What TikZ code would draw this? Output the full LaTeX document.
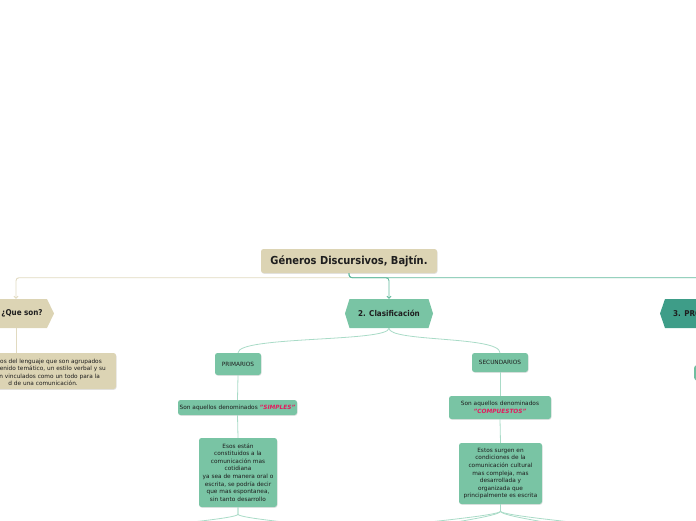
\documentclass[tikz,border=0pt]{standalone}
\usepackage{fontspec}
\setmainfont{DejaVu Sans}
\newfontfamily\headfont{DejaVu Sans Condensed}
\usetikzlibrary{arrows.meta,shadows,calc}
\definecolor{beige}{HTML}{DCD4B4}
\definecolor{mint}{HTML}{79C4A4}
\definecolor{deepteal}{HTML}{3E9D88}
\definecolor{linkteal}{HTML}{5FB89B}
\definecolor{linkbeige}{HTML}{E1DAC0}
\definecolor{linklight}{HTML}{A9DBC7}
\definecolor{hot}{HTML}{E5195E}
\definecolor{ink}{HTML}{1E1E1E}
\begin{document}
\begin{tikzpicture}[x=1pt,y=-1pt,
  box/.style={rounded corners=2.5pt, inner sep=0pt, align=center,
    font=\fontsize{5.8}{7.6}\selectfont, text=ink,
    drop shadow={shadow xshift=0.5pt,shadow yshift=-0.8pt,opacity=0.22}},
  mintbox/.style={box, fill=mint},
  beigebox/.style={box, fill=beige},
  hexlabel/.style={inner sep=0pt, minimum height=29pt, text=ink,
    font=\headfont\bfseries\fontsize{8}{9}\selectfont},
  smalltext/.style={inner sep=0pt, text=ink, font=\fontsize{5.8}{7.6}\selectfont},
  tiparrow/.style={-{Straight Barb[length=2pt,width=4pt]}},
  mainlink/.style={line width=0.9pt, rounded corners=3pt},
  sublink/.style={linklight, line width=0.8pt}]
\useasboundingbox (0,0) rectangle (696,520);
\clip (0,0) rectangle (696,520);

% hexagon shapes
\fill[beige] (-40,299) -- (47,299) -- (54,313.5) -- (47,328) -- (-40,328) -- cycle;
\fill[mint] (345,313.5) -- (349.5,299) -- (428.5,299) -- (433,313.5) -- (428.5,328) -- (349.5,328) -- cycle;
\fill[deepteal] (660,313.5) -- (665,299) -- (760,299) -- (760,328) -- (665,328) -- cycle;

% nodes
\node[beigebox, minimum width=176pt, minimum height=24pt,
  font=\headfont\bfseries\fontsize{11}{13}\selectfont] (root) at (349,261) {Géneros Discursivos, Bajtín.};
\node[hexlabel] (que) at (22,313.5) {¿Que son?};
\node[hexlabel, minimum width=88pt] (clas) at (389,313.5) {2. Clasificación};
\node[hexlabel, anchor=west] (pro) at (673,313.5) {3. PRO};

\node[beigebox, minimum width=200pt, minimum height=36pt] (def) at (16,371) {};
\node[smalltext, anchor=base east] (d1) at (102,363) {tos del lenguaje que son agrupados};
\node[smalltext, anchor=base east] (d2) at (106,370.5) {ntenido temático, un estilo verbal y su};
\node[smalltext, anchor=base east] (d3) at (100,378) {on vinculados como un todo para la};
\node[smalltext, anchor=base east] (d4) at (78,385.5) {d de una comunicación.};

\node[box, fill=mint!85!deepteal, minimum width=30pt, minimum height=15pt, anchor=north west] (edge) at (694,365) {};

\node[mintbox, minimum width=46pt, minimum height=22pt] (prim) at (238,364) {PRIMARIOS};
\node[mintbox, minimum width=119pt, minimum height=15pt] (simp) at (237.5,407.5)
  {Son aquellos denominados \textcolor{hot}{\bfseries\itshape "SIMPLES"}};
\node[mintbox, minimum width=78pt, minimum height=69pt] (esos) at (238,472.5)
  {Esos están\\constituidos a la\\comunicación mas\\cotidiana\\ya sea de manera oral o\\escrita, se podría decir\\que mas espontanea,\\sin tanto desarrollo};

\node[mintbox, minimum width=56pt, minimum height=19pt] (secu) at (500,362.5) {SECUNDARIOS};
\node[mintbox, minimum width=102pt, minimum height=23pt] (comp) at (500,407.5)
  {Son aquellos denominados\\\textcolor{hot}{\bfseries\itshape "COMPUESTOS"}};
\node[mintbox, minimum width=83pt, minimum height=61pt] (estos) at (500.5,473.5)
  {Estos surgen en\\condiciones de la\\comunicación cultural\\mas compleja, mas\\desarrollada y\\organizada que\\principalmente es escrita};

% connectors from root
\draw[linkteal, mainlink] (root.south) -- ++(0,4.5) -| ($(pro.north)+(40,0)$);
\draw[linkbeige, mainlink, tiparrow] (root.south) ++(0,4.5) -| ($(que.north)+(-6,0)$);
\draw[linkteal, mainlink, tiparrow] (root.south) -- ++(0,4.5) -| (clas.north);
\draw[linkbeige, line width=0.9pt] ($(que.south)+(-6,0)$) -- (def.north);

% clasificacion branches
\draw[sublink] (clas.south) .. controls +(0,14) and +(0,-17) .. (prim.north);
\draw[sublink] (clas.south) .. controls +(0,14) and +(0,-17) .. (secu.north);
\draw[sublink] (prim.south) -- (simp.north);
\draw[sublink] (simp.south) -- (esos.north);
\draw[sublink] (secu.south) -- (comp.north);
\draw[sublink] (comp.south) -- (estos.north);

% continuing branches below
\coordinate (pl) at (140,528);
\coordinate (pr) at (336,528);
\coordinate (sl1) at (380,527);
\coordinate (sl2) at (410,530);
\coordinate (sr1) at (620,527);
\coordinate (sr2) at (590,530);
\draw[sublink] (esos.south) -- ++(0,7) .. controls +(0,4) and +(30,-4) .. (pl);
\draw[sublink] (esos.south) -- ++(0,7) .. controls +(0,4) and +(-30,-4) .. (pr);
\draw[sublink] (estos.south) -- ++(0,7) .. controls +(0,4) and +(40,-4) .. (sl1);
\draw[sublink] (estos.south) -- ++(0,7) .. controls +(0,5) and +(30,-6) .. (sl2);
\draw[sublink] (estos.south) -- ++(0,7) .. controls +(0,4) and +(-40,-4) .. (sr1);
\draw[sublink] (estos.south) -- ++(0,7) .. controls +(0,5) and +(-30,-6) .. (sr2);
\end{tikzpicture}
\end{document}
